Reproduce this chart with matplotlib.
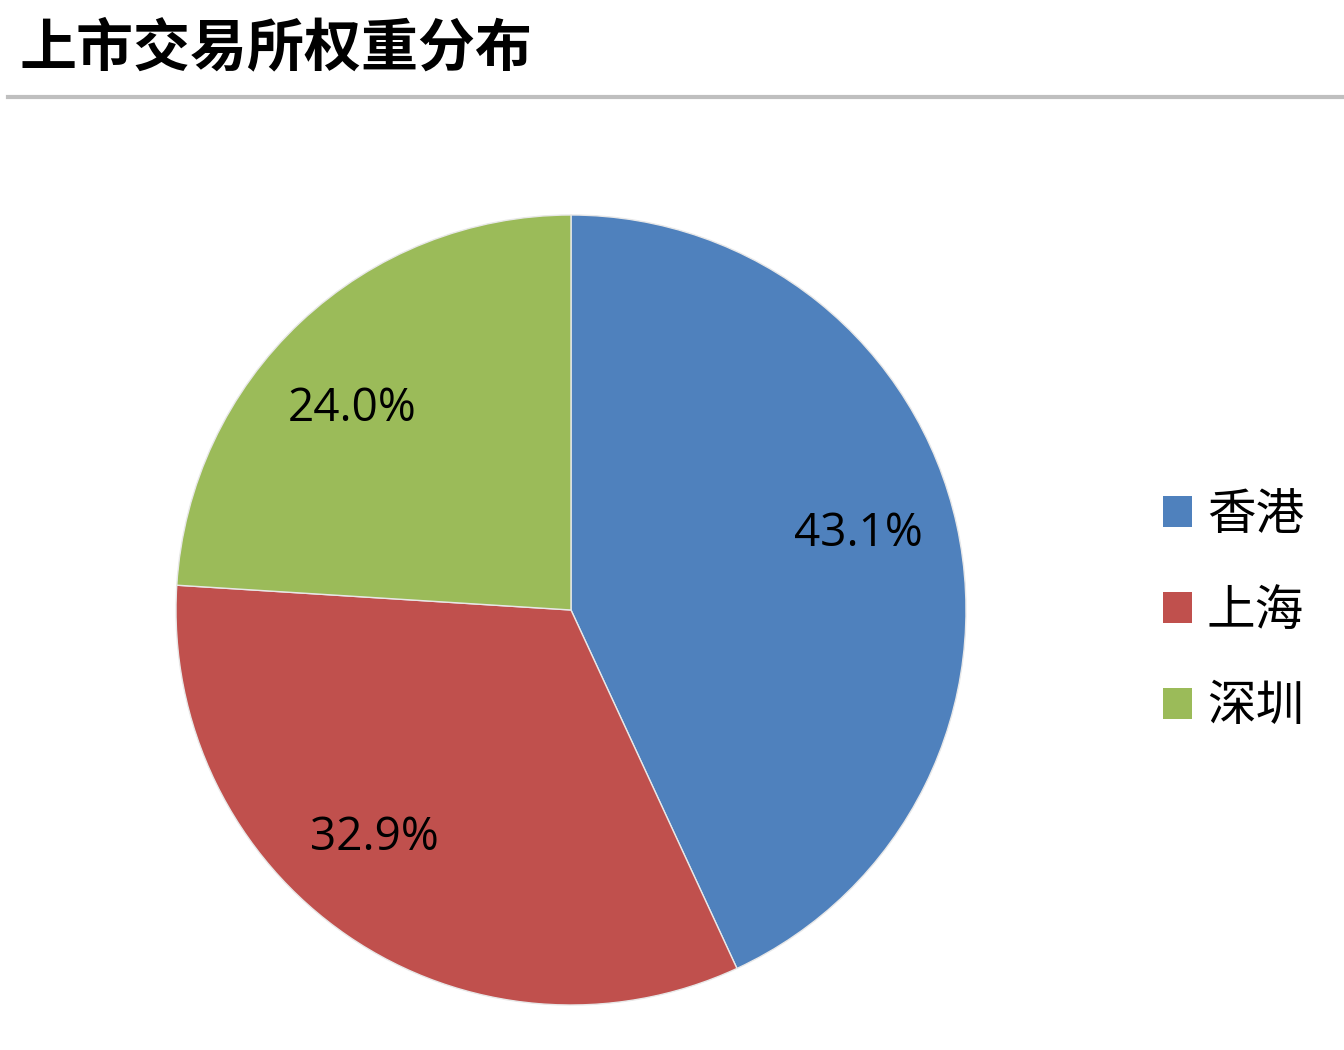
import matplotlib
matplotlib.use("Agg")
import matplotlib.pyplot as plt
from matplotlib.patches import Patch
from matplotlib.lines import Line2D

plt.rcParams['font.family'] = ['Noto Sans CJK SC', 'DejaVu Sans']

# data
title = '上市交易所权重分布'
labels = ['香港', '上海', '深圳']
shares = [43.1, 32.9, 24.0]
colors = ['#4F81BD', '#C0504D', '#9BBB59']

# small nudges of the percentage labels (in radius units)
label_nudge = [(-0.015, 0.03), (-0.068, 0.051), (-0.035, -0.046)]

W, H = 1344, 1050
fig = plt.figure(figsize=(W / 100, H / 100), dpi=100)
fig.patch.set_facecolor('white')

# pie axes: centre ~ (571, 610) px, radius ~ 395 px
cx, cy, r = 571, 610, 395
ax = fig.add_axes([(cx - r) / W, (H - cy - r) / H, 2 * r / W, 2 * r / H])
wedges, texts, autotexts = ax.pie(
    shares, colors=colors, startangle=90, counterclock=False, radius=1,
    autopct='%.1f%%', pctdistance=0.76,
    wedgeprops=dict(edgecolor='#E8E8E8', linewidth=1),
    textprops=dict(fontsize=33, family=['Open Sans', 'DejaVu Sans'], color='black'))
for t, (dx, dy) in zip(autotexts, label_nudge):
    x, y = t.get_position()
    t.set_position((x + dx, y + dy))
ax.set_xlim(-1, 1)
ax.set_ylim(-1, 1)
ax.set_aspect('equal')
ax.axis('off')

# title and rule
fig.text(19 / W, 1 - 48 / H, title, fontsize=41, fontweight='bold',
         va='center', ha='left')
fig.add_artist(Line2D([8 / W, 1.0], [1 - 97 / H, 1 - 97 / H],
                      color='#BFBFBF', linewidth=3, transform=fig.transFigure))

# legend
handles = [Patch(facecolor=c, edgecolor='none') for c in colors]
fig.legend(handles, labels, loc='center left',
           bbox_to_anchor=(1163 / W, 1 - 611 / H), frameon=False,
           fontsize=35, handlelength=0.6, handleheight=0.6,
           handletextpad=0.3, labelspacing=0.95, borderpad=0, borderaxespad=0)

fig.savefig('out.png', dpi=100, facecolor='white')
